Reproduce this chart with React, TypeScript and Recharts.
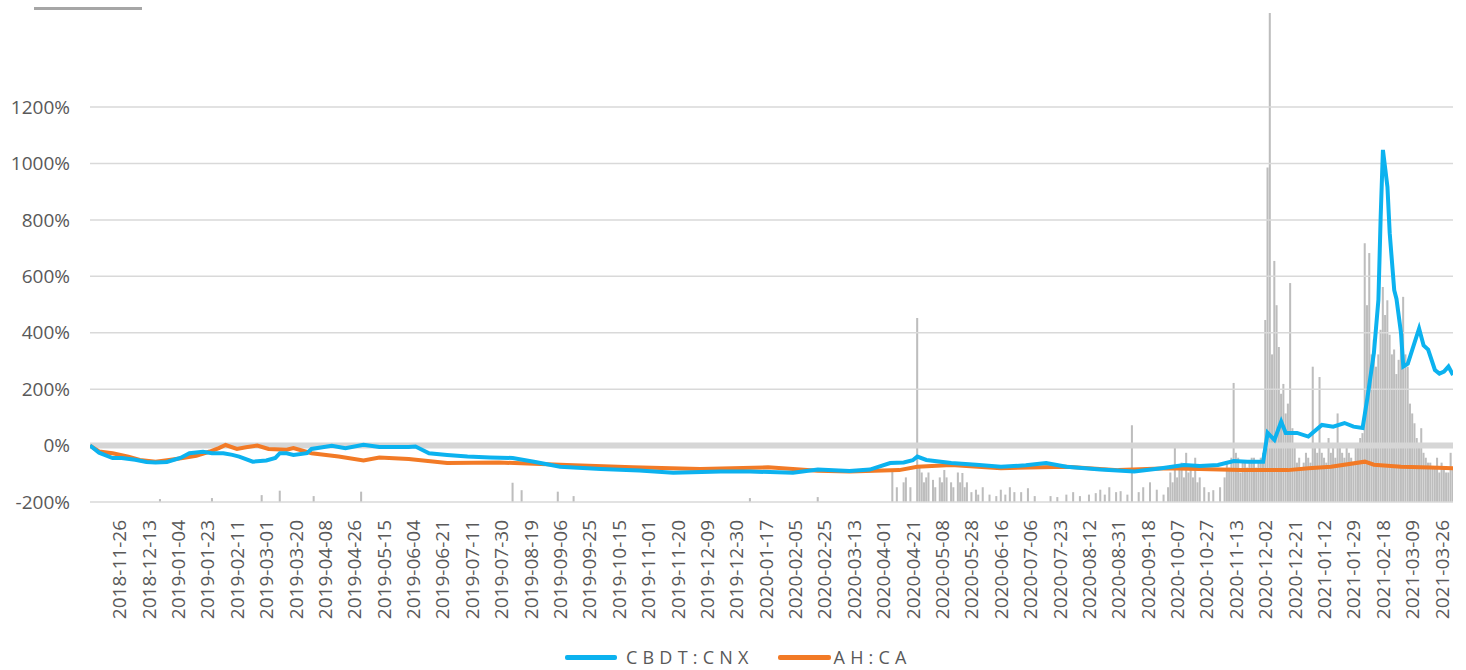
import React from "react";
import {
  ComposedChart,
  Line,
  Bar,
  XAxis,
  YAxis,
  ReferenceLine,
} from "recharts";

// trading-day index -> tick labels (one label every 13 trading days, first at day 13)
const TICK_STEP = 13;
const xLabels = [
  "2018-11-26", "2018-12-13", "2019-01-04", "2019-01-23", "2019-02-11", "2019-03-01",
  "2019-03-20", "2019-04-08", "2019-04-26", "2019-05-15", "2019-06-04", "2019-06-21",
  "2019-07-11", "2019-07-30", "2019-08-19", "2019-09-06", "2019-09-25", "2019-10-15",
  "2019-11-01", "2019-11-20", "2019-12-09", "2019-12-30", "2020-01-17", "2020-02-05",
  "2020-02-25", "2020-03-13", "2020-04-01", "2020-04-21", "2020-05-08", "2020-05-28",
  "2020-06-16", "2020-07-06", "2020-07-23", "2020-08-12", "2020-08-31", "2020-09-18",
  "2020-10-07", "2020-10-27", "2020-11-13", "2020-12-02", "2020-12-21", "2021-01-12",
  "2021-01-29", "2021-02-18", "2021-03-09", "2021-03-26",
];
const LAST_DAY = 603;

const yTicks = [-200, 0, 200, 400, 600, 800, 1000, 1200];

// CBDT:CNX cumulative return (%) : [trading day, value]
const cbdt: [number, number][] = [
  [0, 0], [4, -25], [10, -44], [14, -44], [20, -50], [25, -58], [29, -60], [34, -58],
  [40, -44], [44, -27], [50, -22], [54, -27], [59, -27], [63, -33], [66, -39], [72, -57],
  [78, -53], [82, -44], [84, -27], [87, -27], [90, -33], [96, -27], [98, -12], [107, -1],
  [113, -9], [121, 3], [128, -5], [135, -5], [141, -5], [144, -3], [150, -27], [158, -33],
  [167, -39], [177, -42], [187, -44], [197, -58], [208, -75], [226, -83], [243, -88],
  [258, -96], [279, -92], [292, -92], [311, -96], [322, -85], [336, -90], [345, -85],
  [354, -62], [360, -60], [364, -52], [366, -39], [370, -51], [381, -62], [392, -68],
  [403, -75], [414, -70], [423, -62], [432, -75], [447, -85], [462, -92], [474, -80],
  [484, -69], [491, -72], [499, -69], [506, -55], [512, -57], [519, -57], [521, 45],
  [524, 20], [527, 85], [529, 45], [534, 45], [539, 32], [545, 73], [550, 67], [555, 80],
  [559, 67], [563, 62], [565, 162], [568, 328], [570, 516], [571, 811], [572, 1048],
  [574, 917], [575, 753], [577, 551], [578, 520], [580, 399], [581, 280], [583, 290],
  [585, 340], [588, 415], [590, 355], [592, 340], [595, 268], [597, 255], [599, 262],
  [601, 280], [603, 250],
];

// AH:CA cumulative return (%)
const ahca: [number, number][] = [
  [0, 0], [4, -21], [10, -27], [17, -39], [22, -51], [29, -57], [35, -51], [41, -44],
  [47, -36], [53, -21], [57, -9], [60, 2], [65, -12], [69, -6], [74, 0], [79, -12],
  [87, -15], [90, -9], [98, -27], [110, -39], [121, -53], [128, -42], [141, -48],
  [158, -62], [181, -60], [211, -69], [240, -77], [270, -83], [300, -77], [322, -89],
  [336, -92], [358, -87], [366, -75], [381, -69], [403, -80], [432, -75], [455, -87],
  [477, -80], [509, -87], [530, -87], [539, -80], [549, -75], [564, -57], [568, -68],
  [580, -75], [593, -78], [603, -80],
];

// trading volume (relative units, 100 = top of plot)
const volume: [number, number][] = [
  [31, 0.6], [54, 0.8], [76, 1.4], [84, 2.3], [99, 1.2], [120, 2.1], [187, 3.9],
  [191, 2.4], [207, 2.1], [214, 1.2], [292, 0.8], [322, 1.0], [355, 6.1], [357, 3],
  [360, 4], [361, 5], [363, 3], [366, 37.4], [367, 7], [368, 6], [369, 4], [370, 5],
  [371, 6], [373, 4.5], [374, 3], [376, 5], [377, 4], [378, 6.5], [379, 5], [381, 4],
  [382, 3], [384, 6], [385, 4], [386, 5.9], [387, 3], [388, 4], [390, 2], [392, 2.5],
  [393, 1.5], [395, 3], [398, 1.5], [401, 1.2], [403, 2.5], [405, 1.5], [407, 3],
  [409, 2], [412, 2], [415, 2.8], [418, 1.2], [425, 1.2], [428, 1], [432, 1.5],
  [435, 2], [438, 1.2], [442, 1.5], [445, 1.8], [447, 2.5], [449, 1.5], [451, 3],
  [454, 2], [456, 2.2], [459, 1.5], [461, 15.6], [464, 2], [466, 3], [469, 4],
  [472, 2.5], [475, 1.5], [477, 3], [478, 6], [479, 4], [480, 11.6], [481, 5], [482, 7],
  [483, 8], [484, 5], [485, 10], [486, 6], [487, 7], [488, 5], [489, 9], [490, 4],
  [491, 5], [493, 3], [495, 2], [497, 2.4], [500, 3], [502, 5], [503, 8], [504, 7],
  [505, 9], [506, 24.2], [507, 10], [508, 9], [509, 6], [510, 8], [511, 8], [512, 7],
  [513, 8.5], [514, 9], [515, 9], [516, 7], [517, 8], [518, 9], [519, 10], [520, 37],
  [521, 68], [522, 99.4], [523, 30], [524, 49], [525, 40], [526, 31.5], [527, 22],
  [528, 24], [529, 18], [530, 20], [531, 44.5], [532, 15], [533, 12], [534, 8], [535, 9],
  [536, 7], [537, 8], [538, 10], [539, 9], [540, 8], [541, 27.5], [542, 11], [543, 10],
  [544, 25.4], [545, 10], [546, 9], [547, 8], [548, 13], [549, 10], [550, 12], [551, 9],
  [552, 18], [553, 11], [554, 10], [555, 9], [556, 12], [557, 10], [558, 9], [559, 8],
  [560, 11], [561, 12], [562, 13], [563, 14], [564, 52.6], [565, 40], [566, 50.6],
  [567, 30], [568, 33], [569, 27.5], [570, 30], [571, 35], [572, 43.7], [573, 38],
  [574, 41], [575, 34], [576, 30], [577, 31], [578, 26], [579, 28.9], [580, 33],
  [581, 41.7], [582, 30], [583, 27.5], [584, 20], [585, 18], [586, 16], [587, 13],
  [588, 12], [589, 15], [590, 10], [591, 9], [592, 8], [593, 8], [594, 7], [595, 7],
  [596, 9], [597, 6], [598, 8], [599, 7], [600, 6], [601, 6], [602, 10], [603, 7],
];

type Row = { d: number; cbdt?: number; ahca?: number; vol?: number };

function buildRows(): Row[] {
  const map = new Map<number, Row>();
  const get = (d: number) => {
    if (!map.has(d)) map.set(d, { d });
    return map.get(d)!;
  };
  cbdt.forEach(([d, v]) => (get(d).cbdt = v));
  ahca.forEach(([d, v]) => (get(d).ahca = v));
  volume.forEach(([d, v]) => (get(d).vol = v));
  return Array.from(map.values()).sort((a, b) => a.d - b.d);
}

const rows = buildRows();
const xTicks = xLabels.map((_, i) => (i + 1) * TICK_STEP);

const FONT = "'Open Sans', 'Liberation Sans', sans-serif";
const TEXT = "#595959";
const BLUE = "#0cb2ef";
const ORANGE = "#f27a26";
const GRID = "#d9d9d9";

const XTick = (props: any) => {
  const { x, y, payload } = props;
  const idx = Math.round(payload.value / TICK_STEP) - 1;
  return (
    <g transform={`translate(${x},${y})`}>
      <text
        transform="rotate(-90)"
        x={-16}
        y={0}
        dy="0.36em"
        textAnchor="end"
        fill={TEXT}
        fontSize={19}
        fontFamily={FONT}
      >
        {xLabels[idx] ?? ""}
      </text>
    </g>
  );
};

export default function App() {
  return (
    <div
      style={{
        position: "fixed",
        left: 0,
        top: 0,
        width: 1466,
        height: 670,
        background: "#fff",
        fontFamily: FONT,
        overflow: "hidden",
      }}
    >
      <div
        style={{
          position: "absolute",
          left: 34,
          top: 7,
          width: 108,
          height: 3,
          background: "#a6a6a6",
        }}
      />
      <ComposedChart
        width={1466}
        height={670}
        data={rows}
        margin={{ top: 10, right: 13, bottom: 48, left: 0 }}
      >
        <XAxis
          dataKey="d"
          type="number"
          domain={[0, LAST_DAY]}
          ticks={xTicks}
          interval={0}
          allowDataOverflow
          height={120}
          tickLine={false}
          axisLine={false}
          tickSize={0}
          tick={<XTick />}
        />
        <YAxis
          yAxisId="pct"
          type="number"
          domain={[-200, 1544]}
          ticks={yTicks}
          allowDataOverflow
          width={90}
          tickLine={false}
          axisLine={false}
          tickSize={0}
          tickMargin={20}
          tickFormatter={(v: number) => `${v}%`}
          tick={{ fill: TEXT, fontSize: 19, fontFamily: FONT }}
        />
        <YAxis yAxisId="vol" hide domain={[0, 100]} allowDataOverflow />
        {yTicks
          .filter((t) => t !== 0)
          .map((t) => (
            <ReferenceLine key={t} yAxisId="pct" y={t} stroke={GRID} strokeWidth={1.5} />
          ))}
        <Bar
          yAxisId="vol"
          dataKey="vol"
          fill="#bdbdbd"
          barSize={2.4}
          isAnimationActive={false}
        />
        <ReferenceLine yAxisId="pct" y={0} stroke="#d6d6d6" strokeWidth={6} />
        <Line
          yAxisId="pct"
          type="linear"
          dataKey="ahca"
          stroke={ORANGE}
          strokeWidth={4}
          dot={false}
          connectNulls
          isAnimationActive={false}
        />
        <Line
          yAxisId="pct"
          type="linear"
          dataKey="cbdt"
          stroke={BLUE}
          strokeWidth={4}
          dot={false}
          connectNulls
          isAnimationActive={false}
        />
      </ComposedChart>
      <div
        style={{
          position: "absolute",
          top: 645,
          left: 565,
          display: "flex",
          alignItems: "center",
          color: TEXT,
          fontSize: 18,
          letterSpacing: 5.2,
          whiteSpace: "nowrap",
        }}
      >
        <span style={{ display: "inline-block", width: 52, height: 5, background: BLUE, borderRadius: 2 }} />
        <span style={{ marginLeft: 9 }}>CBDT:CNX</span>
        <span
          style={{ display: "inline-block", width: 53, height: 5, background: ORANGE, borderRadius: 2, marginLeft: 24 }}
        />
        <span style={{ marginLeft: 3 }}>AH:CA</span>
      </div>
    </div>
  );
}
